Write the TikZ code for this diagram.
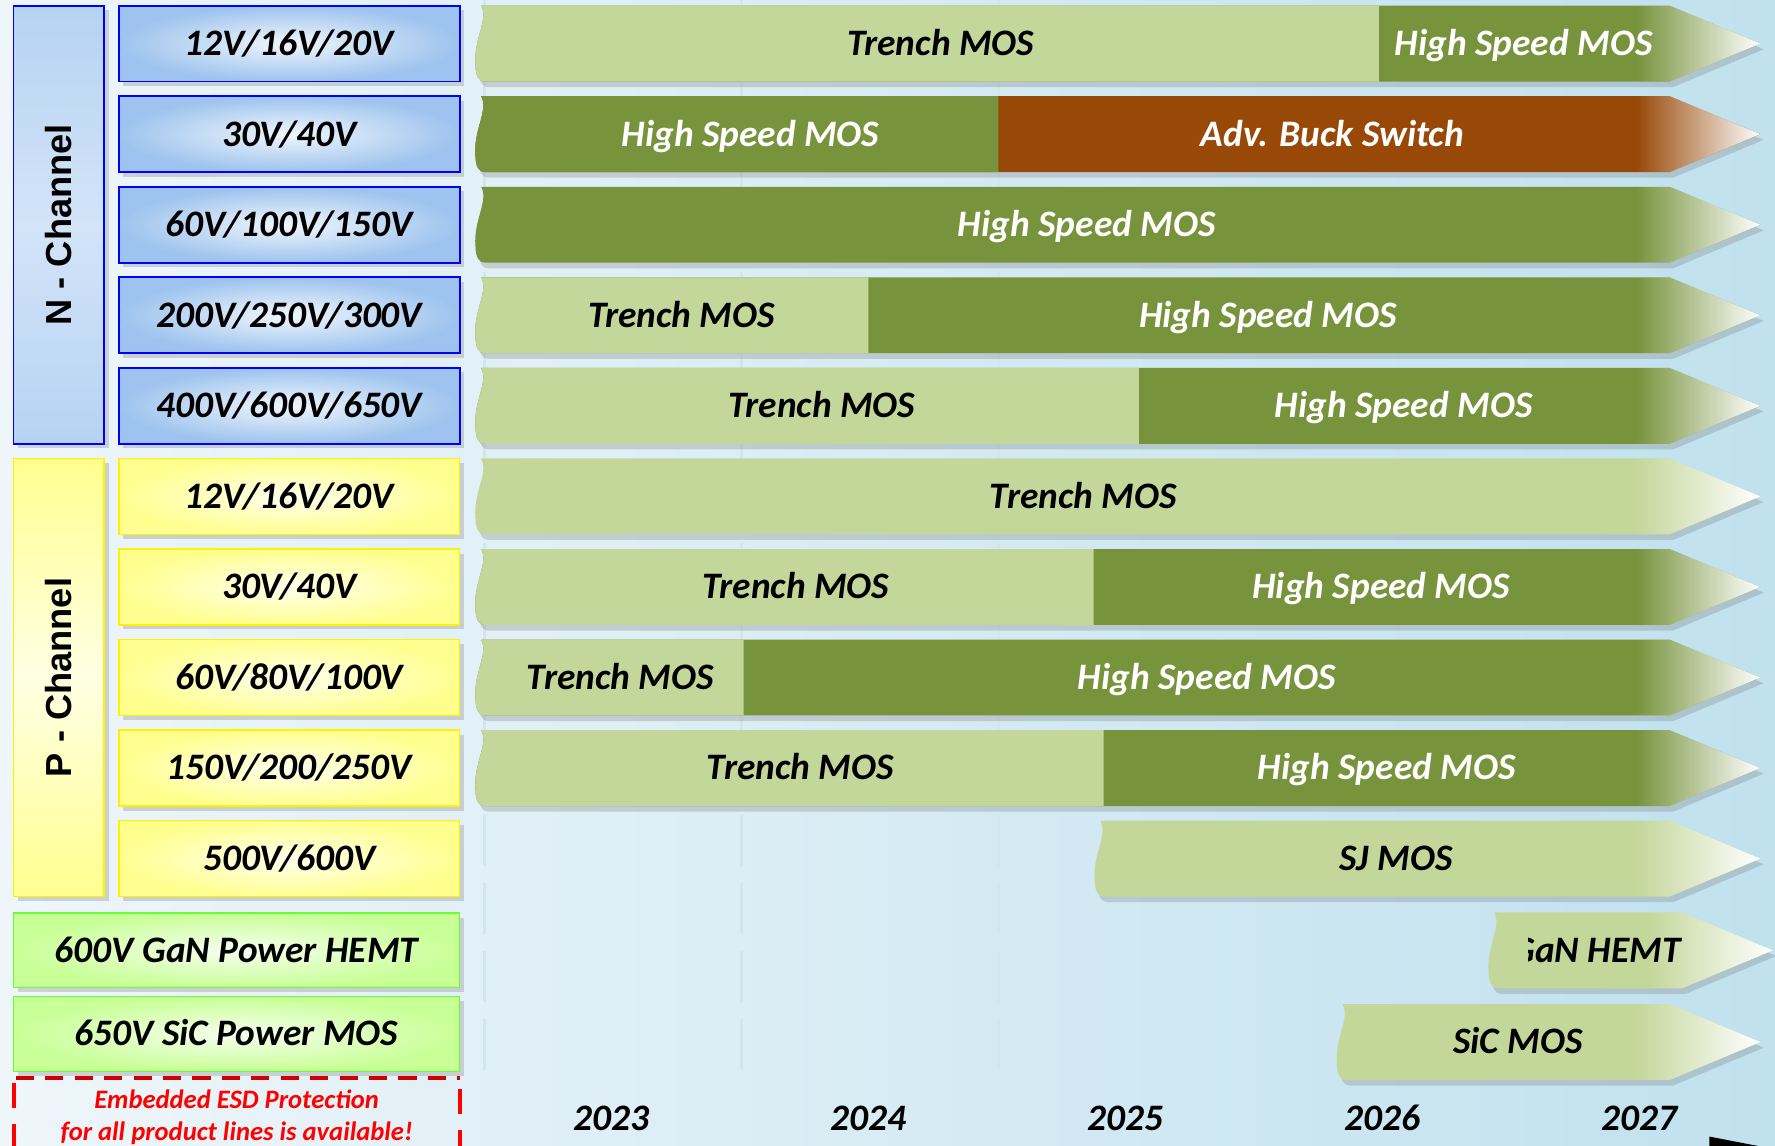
\documentclass[tikz,border=0pt]{standalone}
\usepackage{fontspec}
\setmainfont{Carlito}
\newfontfamily\chanfont{Liberation Sans}
\usetikzlibrary{shadows,fadings}

\definecolor{trench}{HTML}{C4D79B}
\definecolor{hispeed}{HTML}{77933C}
\definecolor{buck}{HTML}{984807}
\definecolor{nblue}{HTML}{9DC3EE}
\definecolor{pyellow}{HTML}{FFFF8F}
\definecolor{wbgreen}{HTML}{C8FF96}
\definecolor{wbedge}{HTML}{66FF33}
\definecolor{bgleft}{HTML}{EEF6FA}
\definecolor{bgright}{HTML}{C0E1EE}
\definecolor{gridline}{HTML}{D3E6EE}

% #1 left x, #2 top y, #3 right x
\newcommand{\wavepath}[3]{({#1+5},#2) .. controls ({#1+12},{#2+12}) and ({#1-2},{#2+30}) .. (#1,{#2+52})
  .. controls (#1,{#2+62}) and ({#1+3},{#2+67}) .. ({#1+8},{#2+67}) -- (#3,{#2+67}) -- (#3,#2) -- cycle}
\newcommand{\arrowpath}[3]{({#1+5},#2) .. controls ({#1+12},{#2+12}) and ({#1-2},{#2+30}) .. (#1,{#2+52})
  .. controls (#1,{#2+62}) and ({#1+3},{#2+67}) .. ({#1+8},{#2+67}) -- (#3,{#2+67}) -- ({#3+80},{#2+33.5}) -- (#3,#2) -- cycle}
% white fade over the tip: #1 top y, #2 body end x
\newcommand{\tipfade}[2]{\fill[white, path fading=west] ({#2-30},#1) -- (#2,#1) -- ({#2+80},{#1+33.5}) -- (#2,{#1+67}) -- ({#2-30},{#1+67}) -- cycle;}

\begin{document}
\begin{tikzpicture}[x=1pt, y=-1pt,
  lbl/.style={font=\fontsize{33}{40}\selectfont\bfseries\itshape, text height=21pt, text depth=0pt, inner sep=0pt},
  light/.style={lbl, text=black},
  dark/.style={lbl, text=white},
  year/.style={lbl},
  boxshadow/.style={drop shadow={shadow xshift=4pt, shadow yshift=-4pt, opacity=.3}},
  barshadow/.style={drop shadow={shadow xshift=3pt, shadow yshift=-5pt, opacity=.3}},
  vbox/.style={lbl, draw=blue, line width=1.6pt, minimum width=301pt, minimum height=67pt, inner color=white!85!nblue, outer color=nblue, boxshadow},
  pbox/.style={lbl, draw=yellow, line width=1.2pt, minimum width=301pt, minimum height=67pt, inner color=white!85!pyellow, outer color=pyellow, boxshadow},
  wbox/.style={lbl, draw=wbedge, line width=1.2pt, minimum width=394pt, minimum height=66pt, inner color=white!85!wbgreen, outer color=wbgreen, boxshadow},
  chan/.style={rotate=90, font=\chanfont\fontsize{32}{38}\selectfont\bfseries, minimum width=387pt, minimum height=80pt, boxshadow}]

\shade[left color=bgleft, right color=bgright] (0,0) rectangle (1568,1012);
\useasboundingbox (0,0) rectangle (1568,1012);
\foreach \gx in {428,655,882}
  \draw[gridline, line width=2.5pt, dash pattern=on 45pt off 15pt] (\gx,0) -- (\gx,946);

% channel columns
\node[chan, draw=blue, line width=1.6pt, top color=nblue!75, bottom color=nblue!75, middle color=white!55!nblue] (nchan) at (52,198.5) {N - Channel};
\node[chan, draw=yellow, line width=1.2pt, top color=pyellow, bottom color=pyellow, middle color=white!75!pyellow] (pchan) at (52,598.5) {P - Channel};

\node[vbox] (n1) at (255.5,38.5) {12V/16V/20V};
\node[vbox] (n2) at (255.5,118.5) {30V/40V};
\node[vbox] (n3) at (255.5,198.5) {60V/100V/150V};
\node[vbox] (n4) at (255.5,278.5) {200V/250V/300V};
\node[vbox] (n5) at (255.5,358.5) {400V/600V/650V};
\node[pbox] (p1) at (255.5,438.5) {12V/16V/20V};
\node[pbox] (p2) at (255.5,518.5) {30V/40V};
\node[pbox] (p3) at (255.5,598.5) {60V/80V/100V};
\node[pbox] (p4) at (255.5,678.5) {150V/200/250V};
\node[pbox] (p5) at (255.5,758.5) {500V/600V};
\node[wbox] (gan) at (209,839.5) {600V GaN Power HEMT};
\node[wbox] (sic) at (209,913.5) {650V SiC Power MOS};

% ESD note
\draw[red!80!black, line width=3.5pt, dash pattern=on 16pt off 10pt] (14,952) -- (406,952);
\draw[red, line width=3.5pt, dash pattern=on 22pt off 14pt] (12,957) -- (12,1020);
\draw[red, line width=3.5pt, dash pattern=on 22pt off 14pt] (406,962) -- (406,1020);
\node[font=\fontsize{23.5}{29}\selectfont\bfseries\itshape, text=red, align=center, inner sep=0pt] (esd) at (209,987) {Embedded ESD Protection\\for all product lines is available!};

% roadmap bars
\path[barshadow, fill=hispeed] \arrowpath{420}{5}{1475};
\fill[trench] \wavepath{420}{5}{1218};
\tipfade{5}{1475}
\node[light] (t1) at (831,38.5) {Trench MOS};
\node[dark] (h1) at (1346,38.5) {High Speed MOS};

\path[barshadow, fill=buck] \arrowpath{420}{85}{1475};
\fill[hispeed] \wavepath{420}{85}{882};
\tipfade{85}{1475}
\node[dark] (h2) at (663,118.5) {High Speed MOS};
\node[dark] (b2) at (1177,118.5) {Adv. Buck Switch};

\path[barshadow, fill=hispeed] \arrowpath{420}{165}{1475};
\tipfade{165}{1475}
\node[dark] (h3) at (960,198.5) {High Speed MOS};

\path[barshadow, fill=hispeed] \arrowpath{420}{245}{1475};
\fill[trench] \wavepath{420}{245}{767};
\tipfade{245}{1475}
\node[light] (t4) at (602,278.5) {Trench MOS};
\node[dark] (h4) at (1120,278.5) {High Speed MOS};

\path[barshadow, fill=hispeed] \arrowpath{420}{325}{1475};
\fill[trench] \wavepath{420}{325}{1006};
\tipfade{325}{1475}
\node[light] (t5) at (726,358.5) {Trench MOS};
\node[dark] (h5) at (1240,358.5) {High Speed MOS};

\path[barshadow, fill=trench] \arrowpath{420}{405}{1475};
\tipfade{405}{1475}
\node[light] (t6) at (957,438.5) {Trench MOS};

\path[barshadow, fill=hispeed] \arrowpath{420}{485}{1475};
\fill[trench] \wavepath{420}{485}{966};
\tipfade{485}{1475}
\node[light] (t7) at (703,518.5) {Trench MOS};
\node[dark] (h7) at (1220,518.5) {High Speed MOS};

\path[barshadow, fill=hispeed] \arrowpath{420}{565}{1475};
\fill[trench] \wavepath{420}{565}{657};
\tipfade{565}{1475}
\node[light] (t8) at (548,598.5) {Trench MOS};
\node[dark] (h8) at (1066,598.5) {High Speed MOS};

\path[barshadow, fill=hispeed] \arrowpath{420}{645}{1475};
\fill[trench] \wavepath{420}{645}{975};
\tipfade{645}{1475}
\node[light] (t9) at (707,678.5) {Trench MOS};
\node[dark] (h9) at (1225,678.5) {High Speed MOS};

\path[barshadow, fill=trench] \arrowpath{967}{725}{1475};
\tipfade{725}{1475}
\node[light] (sj) at (1233,758.5) {SJ MOS};

\path[barshadow, fill=trench] \arrowpath{1315}{806}{1486};
\tipfade{806}{1486}
\begin{scope}
  \clip (1350,800) rectangle (1500,880);
  \node[light, anchor=east] (ganbar) at (1485,839.5) {GaN HEMT};
\end{scope}

\path[barshadow, fill=trench] \arrowpath{1181}{887}{1475};
\tipfade{887}{1475}
\node[light] (sicbar) at (1341,920.5) {SiC MOS};

% years
\node[year] (y2023) at (540,988) {2023};
\node[year] (y2024) at (767,988) {2024};
\node[year] (y2025) at (994,988) {2025};
\node[year] (y2026) at (1221,988) {2026};
\node[year] (y2027) at (1448,988) {2027};
\fill[black] (1510,1004) -- (1572,1016) -- (1510,1016) -- cycle;
\end{tikzpicture}
\end{document}
